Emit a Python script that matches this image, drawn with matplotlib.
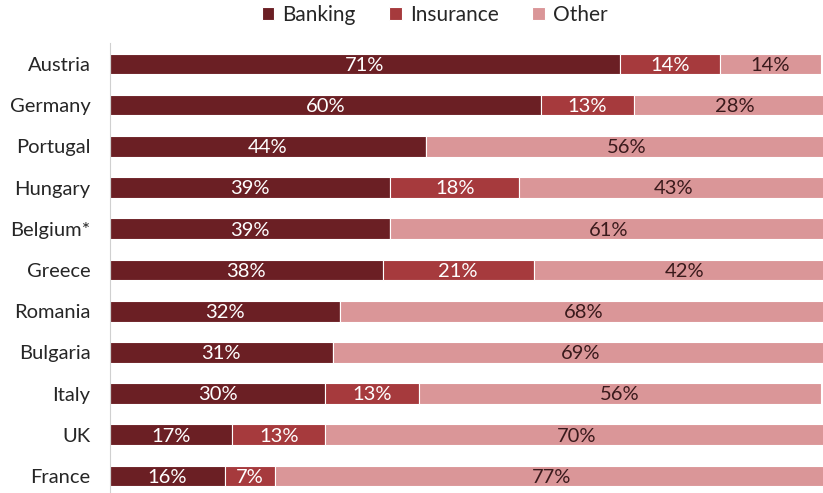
import matplotlib
matplotlib.use("Agg")
import matplotlib.pyplot as plt

countries = ["Austria", "Germany", "Portugal", "Hungary", "Belgium*", "Greece",
             "Romania", "Bulgaria", "Italy", "UK", "France"]
banking = [71, 60, 44, 39, 39, 38, 32, 31, 30, 17, 16]
insurance = [14, 13, 0, 18, 0, 21, 0, 0, 13, 13, 7]
other = [14, 28, 56, 43, 61, 42, 68, 69, 56, 70, 77]

series = [("Banking", banking, "#6B1F24", "white"),
          ("Insurance", insurance, "#A63A3D", "white"),
          ("Other", other, "#DA9698", "#3a1a1c")]

plt.rcParams['font.family'] = ['Lato', 'DejaVu Sans']

fig = plt.figure(figsize=(8.23, 4.93), dpi=100)
ax = fig.add_axes([110/823, -3.6/493, 1 - 110/823, (496.6 - 43.4)/493])

y = list(range(len(countries)))
left = [0] * len(countries)
for name, vals, col, tcol in series:
    ax.barh(y, vals, left=left, height=0.5, color=col, edgecolor="white",
            linewidth=0.8, label=name)
    for i, v in enumerate(vals):
        if v > 0:
            ax.text(left[i] + v / 2, i + 0.03, f"{v}%", ha="center", va="center",
                    fontsize=14.5, color=tcol)
    left = [l + v for l, v in zip(left, vals)]

ax.set_ylim(len(countries) - 0.5, -0.5)
ax.set_xlim(0, 99.3)
ax.set_yticks(y)
ax.set_yticklabels(countries, fontsize=14.5, color="#262626")
ax.tick_params(axis="y", length=0, pad=14)
ax.set_xticks([])
for s in ["top", "right", "bottom"]:
    ax.spines[s].set_visible(False)
ax.spines["left"].set_color("#d0d0d0")

fig.legend(loc="center", bbox_to_anchor=(0.528, 1 - 15/493), ncol=3, frameon=False,
           fontsize=15, handlelength=0.6, handleheight=0.6, handletextpad=0.4,
           columnspacing=1.6, labelcolor="#262626")

fig.savefig("out.png", dpi=100)
